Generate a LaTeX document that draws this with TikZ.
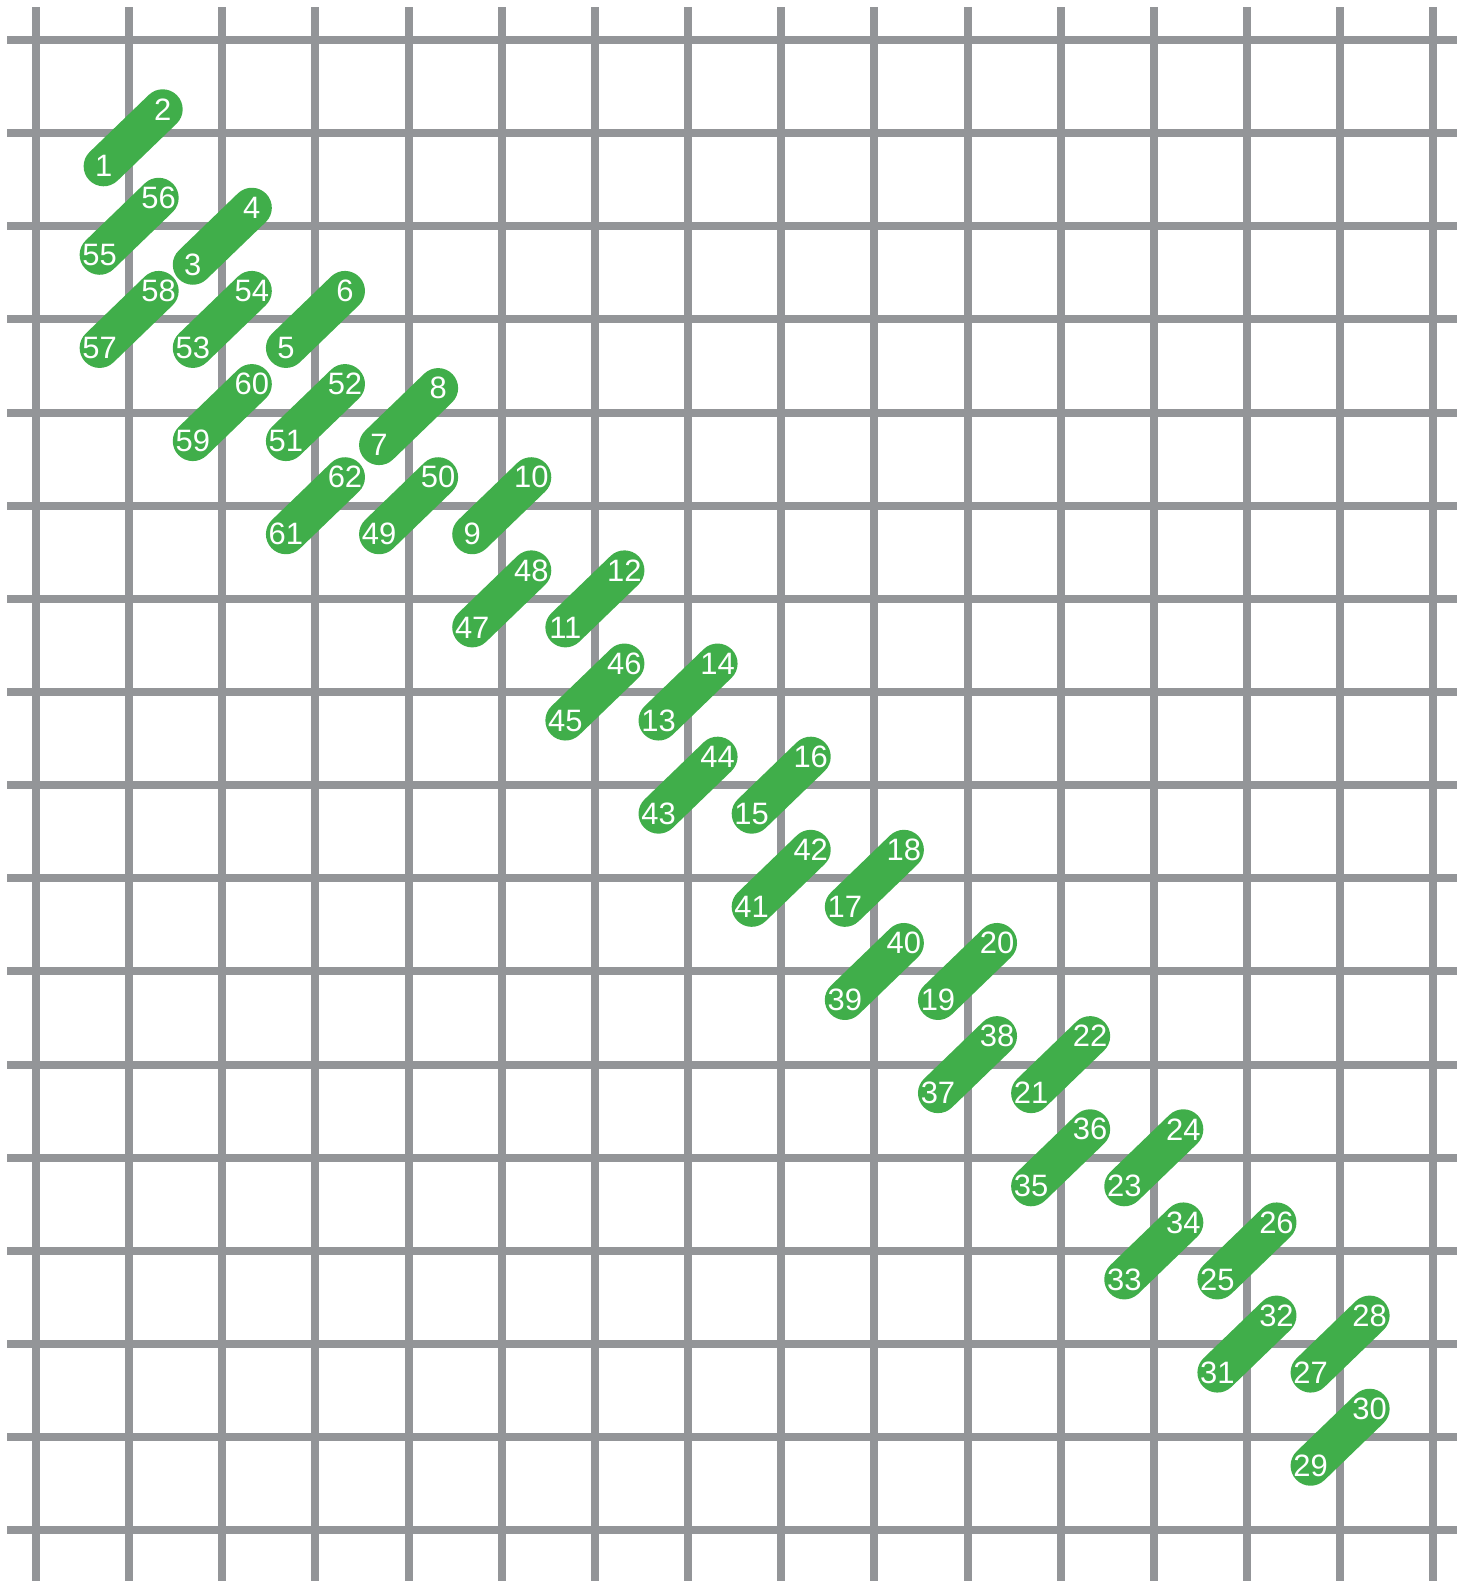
\documentclass[tikz,border=0pt]{standalone}
\usepackage{fontspec}
\setmainfont{Liberation Sans}
\usepackage{xcolor}
\usetikzlibrary{backgrounds}

\definecolor{gridgray}{RGB}{147,149,152}
\definecolor{stitchgreen}{RGB}{64,174,74}
\pgfdeclarelayer{grid}
\pgfsetlayers{grid,background,main}

\begin{document}
\begin{tikzpicture}[x=0.9315cm,y=-0.9315cm,
  gridline/.style={draw=gridgray,line width=0.08cm},
  stitch/.style={draw=stitchgreen,line width=0.40cm,line cap=round},
  num/.style={text=white,inner sep=0pt,font=\fontsize{8.8}{10}\selectfont}]
  \useasboundingbox (-0.3865,-0.4294) rectangle (15.394,16.565);
  % grid
  \begin{pgfonlayer}{grid}
    \foreach \i in {0,...,15}
      \draw[gridline] (\i,-0.354) -- (\i,16.543);
    \foreach \j in {0,...,16}
      \draw[gridline] (-0.311,\j) -- (15.255,\j);
  \end{pgfonlayer}
  % stitches: odd number at the lower-left end, even at the upper-right
  \foreach \n/\i/\j in {1/1.043/1.05, 3/2/2.107, 5/3/3, 7/4/4.043, 9/5/5,
      11/6/6, 13/7/7, 15/8/8, 17/9/9, 19/10/10, 21/11/11, 23/12/12,
      25/13/13, 27/14/14, 29/14/15, 31/13/14, 33/12/13, 35/11/12,
      37/10/11, 39/9/10, 41/8/9, 43/7/8, 45/6/7, 47/5/6, 49/4/5,
      51/3/4, 53/2/3, 55/1/2, 57/1/3, 59/2/4, 61/3/5}{
    \pgfmathtruncatemacro{\m}{\n+1}
    \node[num] (n\n) at (\i-0.317,\j+0.306) {\n};
    \node[num] (n\m) at (\i+0.317,\j-0.306) {\m};
    \begin{pgfonlayer}{background}
      \draw[stitch] (n\n.center) -- (n\m.center);
    \end{pgfonlayer}
  }
\end{tikzpicture}
\end{document}
